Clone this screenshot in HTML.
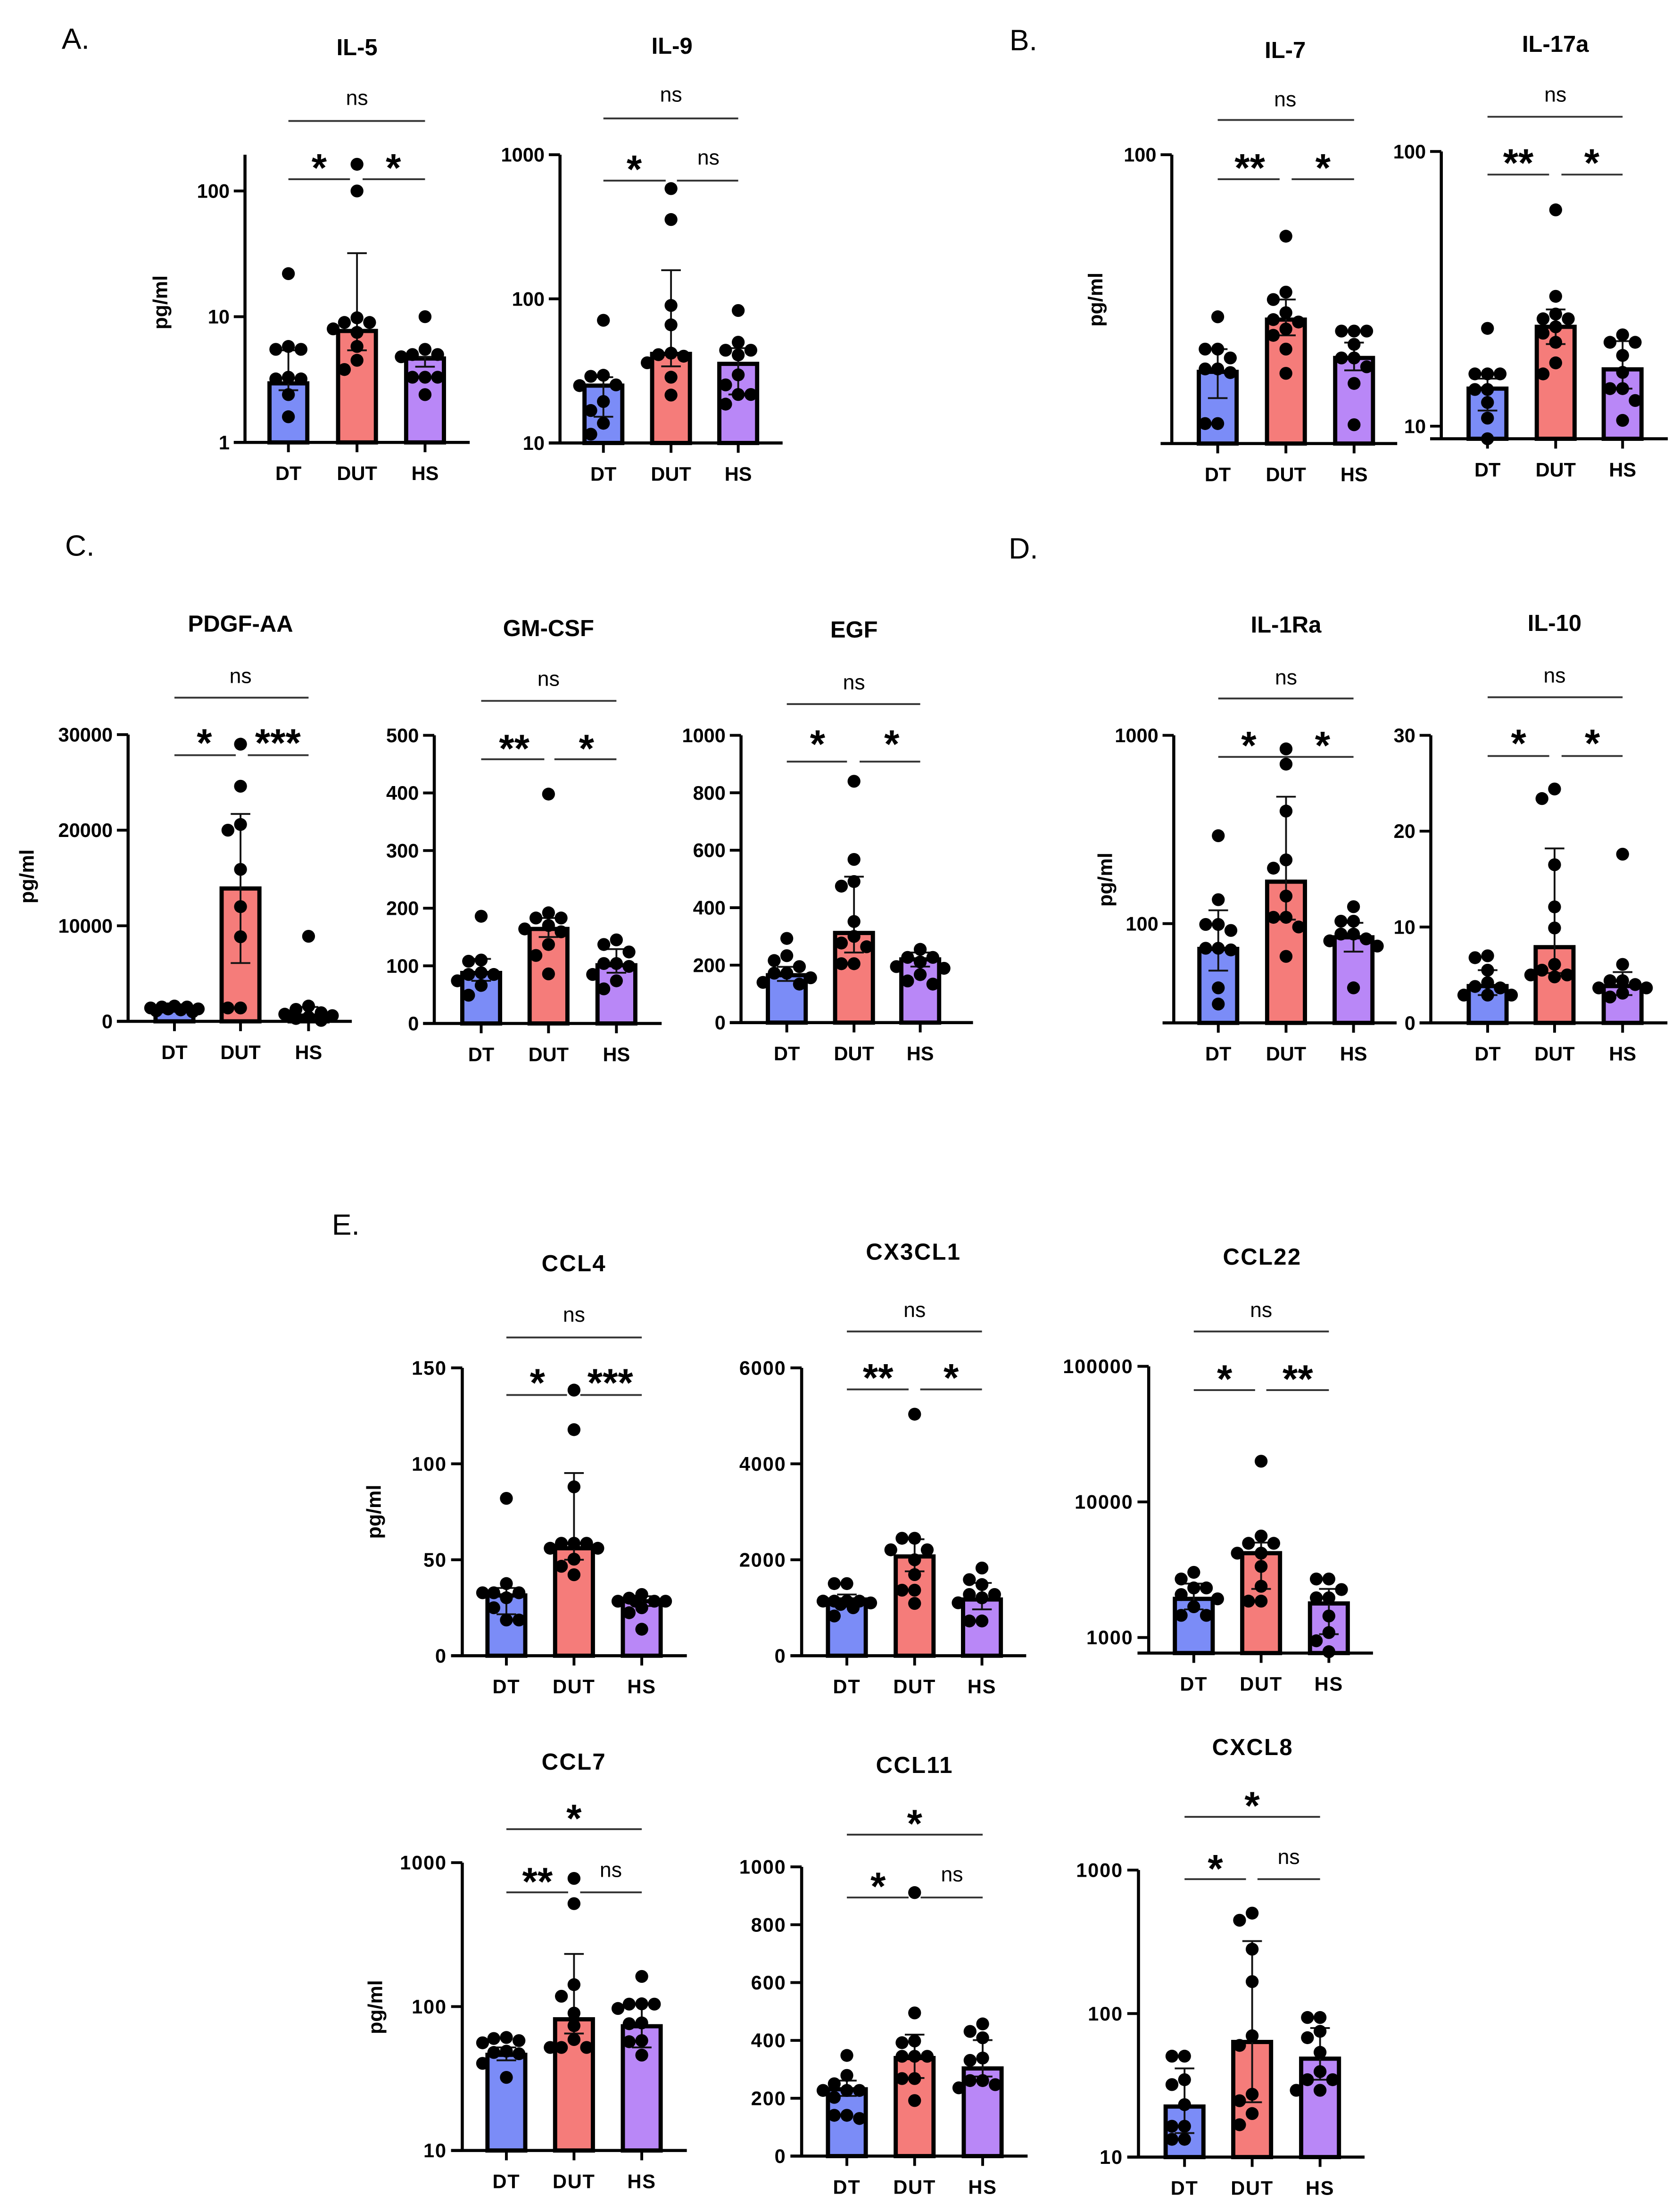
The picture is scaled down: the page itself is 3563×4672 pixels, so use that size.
<!DOCTYPE html>
<html><head><meta charset="utf-8"><title>Cytokine panels</title>
<style>
html,body{margin:0;padding:0;background:#fff;}
svg{display:block;}
text{font-family:"Liberation Sans",Arial,sans-serif;fill:#000;}
</style></head>
<body>
<svg id="fig" xmlns="http://www.w3.org/2000/svg" width="3563" height="4672" viewBox="0 0 1200 1573.5" preserveAspectRatio="none">
<rect x="0" y="0" width="1200" height="1573.5" fill="#fff"/>
<text x="54" y="28" font-size="21" dominant-baseline="central" text-anchor="middle">A.</text>
<text x="731" y="29" font-size="21" dominant-baseline="central" text-anchor="middle">B.</text>
<text x="57" y="390" font-size="21" dominant-baseline="central" text-anchor="middle">C.</text>
<text x="731" y="392" font-size="21" dominant-baseline="central" text-anchor="middle">D.</text>
<text x="247" y="875" font-size="21" dominant-baseline="central" text-anchor="middle">E.</text>
</svg>
<script>
const GROUPS = ['DT','DUT','HS'];
const COLORS = ['#7b8cf7','#f57c7a','#b987f7'];

// IL-5
const IL5_MEAN=[2.95,7.7,4.65], IL5_LO=[2.6,5.4,4.0], IL5_HI=[5.4,32,4.8];
const IL5_DT=[22,5.8,5.5,5.5,3.3,3.2,3.2,2.4,1.6];
const IL5_DUT=[163,100,9.8,9,9,8,7.5,5.8,4.5,3.8];
const IL5_HS=[10,5.5,5,5,4.8,3.3,3.3,3.3,2.4];
// IL-9
const IL9_MEAN=[25,41.5,35.4], IL9_LO=[15.2,34,21.7], IL9_HI=[28.6,158,45.5];
const IL9_DT=[71,29.5,29,25.3,25,19.4,16.8,13.7,11.5];
const IL9_DUT=[582,355,90,66,42,41,40,36,28.6,21.5];
const IL9_HS=[83,50,44,44,40.8,29.7,25.3,21.7,21.7,18.6];
// IL-7
const IL7_MEAN=[16.2,25.1,18.2], IL7_LO=[13,22,16.4], IL7_HI=[19.6,29.7,20.7];
const IL7_DT=[25.7,19.6,19.6,18.2,16.6,16.6,16.1,10.5,10.5];
const IL7_DUT=[50.5,31.6,29.7,26.6,25.1,24.6,23.2,22,19.6,16];
const IL7_HS=[22.8,22.8,22.8,20.4,18.2,18.2,16.9,14.7,10.4];
// IL-17a
const IL17_MEAN=[13.7,23,16.1], IL17_LO=[11.4,19.9,13.7], IL17_HI=[14.9,26.6,20.4];
const IL17_DT=[22.7,15.5,15.5,15.5,13.6,13.6,12.2,10.7,9.0];
const IL17_DUT=[61.3,29.7,25.6,24.6,24.6,23,21.8,20.2,17,15.5];
const IL17_HS=[21.5,20.2,20.2,18.1,15.7,13.7,13.7,12.4,10.5];
// PDGF-AA
const PDGF_MEAN=[1250,13900,600], PDGF_LO=[1000,6100,300], PDGF_HI=[1500,21700,1500];
const PDGF_DT=[1600,1500,1500,1400,1300,1300,1200,1100,1000];
const PDGF_DUT=[29000,24600,20600,20000,15900,12000,8850,1400,1400];
const PDGF_HS=[8900,1600,1250,900,750,600,450,300,100];
// GM-CSF
const GM_MEAN=[87.6,164,101], GM_LO=[74,150,88], GM_HI=[112,183,129];
const GM_DT=[186,110,108,88,85,85,74,66,49];
const GM_DUT=[398,192,183,183,170,164,159,137,118,86];
const GM_HS=[145,137,124,104,104,99,85,74,60];
// EGF
const EGF_MEAN=[165,312,220], EGF_LO=[145,244,195], EGF_HI=[194,508,244];
const EGF_DT=[293,233,216,195,172,172,156,140,134];
const EGF_DUT=[840,568,491,475,352,300,277,264,205,205];
const EGF_HS=[255,227,227,211,195,189,167,145,134];
// IL-1Ra
const IL1RA_MEAN=[73.4,167,84.6], IL1RA_LO=[56.3,105,71], IL1RA_HI=[117.7,472,101];
const IL1RA_DT=[293,134,99,99,92,74,74,72.5,45.6,37.4];
const IL1RA_DUT=[847,703,396,218,197,140,108,108,96,67];
const IL1RA_HS=[123,103,103,88,88,83,81,76,45.6];
// IL-10
const IL10_MEAN=[3.84,7.9,3.84], IL10_LO=[2.9,5.2,2.9], IL10_HI=[5.5,18.2,5.3];
const IL10_DT=[7.0,6.8,5.5,4.2,3.8,3.65,2.9,2.9,2.9];
const IL10_DUT=[24.4,23.4,16.5,12.1,9.9,6.1,5.5,5.0,5.0,4.8];
const IL10_HS=[17.6,6.1,4.4,4.4,4.0,3.65,3.65,3.1,2.7];
// CCL4
const CCL4_MEAN=[31.4,56,28.4], CCL4_LO=[21.6,50,25.9], CCL4_HI=[35.3,95.2,31];
const CCL4_DT=[82,37.6,32.8,32.8,32.8,30.2,25,18.6,18.6];
const CCL4_DUT=[138.4,117.8,88,58.6,58.6,58.6,56,56,50.3,46.6,42.2];
const CCL4_HS=[31.9,30,28.4,28.4,28.4,28.4,25,22.4,13.8];
// CX3CL1
const CX3_MEAN=[1172,2069,1172], CX3_LO=[1069,1759,966], CX3_HI=[1276,2428,1517];
const CX3_DT=[1503,1503,1138,1138,1138,1138,1100,1069,1000,828];
const CX3_DUT=[5034,2448,2448,2207,2207,2000,1690,1366,1366,1090];
const CX3_HS=[1828,1586,1483,1276,1276,1207,1103,724,724];
// CCL22
const CCL22_MEAN=[1928,4188,1783], CCL22_LO=[1612,2283,1058], CCL22_HI=[2498,5014,2283];
const CCL22_DT=[3024,2701,2321,2321,2074,1928,1686,1457,1457];
const CCL22_DUT=[19956,5604,4952,4952,4188,4188,3344,2387,1855,1855];
const CCL22_HS=[2701,2701,2258,1963,1963,1441,1088,946,786];
// CCL7
const CCL7_MEAN=[46.2,81.6,73], CCL7_LO=[42.3,65,52], CCL7_HI=[52,232,104.5];
const CCL7_DT=[61,60,58,56,49,48,47,40.3,32.2];
const CCL7_DUT=[777,519,142,118,90,73.6,59,52,52,52];
const CCL7_HS=[162,104.5,104,104,97,77,76,58,57,46];
// CCL11
const CCL11_MEAN=[231,339,303], CCL11_LO=[208,270,275], CCL11_HI=[261,420,401];
const CCL11_DT=[348,279,250,227,227,227,203,141,141,130];
const CCL11_DUT=[911,495,398,392,345,345,345,268,268,192];
const CCL11_HS=[457,431,409,339,331,261,261,247,236];
// CXCL8
const CXCL8_MEAN=[22.5,63.4,48.5], CXCL8_LO=[14.7,24.1,34.6], CXCL8_HI=[41.5,320,79.3];
const CXCL8_DT=[50.5,50.5,34.6,32,23.2,16.4,16.4,13.3,13.3];
const CXCL8_DUT=[501,447,281,167,70,60,27.4,24.7,20.1,16.8];
const CXCL8_HS=[93.9,93.9,75.2,67.9,53.7,39.4,34.6,34.6,29.2,29.2];

const NS='http://www.w3.org/2000/svg';
const svg=document.getElementById('fig');
function mk(tag,attrs,parent){const e=document.createElementNS(NS,tag);for(const k in attrs)e.setAttribute(k,attrs[k]);(parent||svg).appendChild(e);return e;}
function txt(str,x,y,fs,weight,anchor,parent){const t=mk('text',{x:x,y:y,'font-size':fs,'font-weight':weight||'normal','text-anchor':anchor||'middle','dominant-baseline':'central'},parent);t.textContent=str;return t;}
function fmt(v){return String(v);}

function drawPanel(c){
  const g=mk('g',{});
  
  
  let yOf;
  if(c.log){const l0=Math.log10(c.v0),l1=Math.log10(c.v1);yOf=v=>c.y0+(Math.log10(v)-l0)*(c.y1-c.y0)/(l1-l0);}
  else{yOf=v=>c.y0+(v-c.v0)*(c.y1-c.y0)/(c.v1-c.v0);}
  const t=txt(c.title,c.tx,c.ty,16.5,'bold','middle',g);
  if(c.e)t.setAttribute('letter-spacing','0.8');
  
  
  if(c.ylab){const yl=mk('text',{x:0,y:0,'font-size':14.5,'font-weight':'bold','text-anchor':'middle','dominant-baseline':'central',transform:'translate('+c.ylab[0]+','+c.ylab[1]+') rotate(-90)'},g);yl.textContent='pg/ml';
    
    }
  const bw=27;
  for(let i=0;i<3;i++){
    const x=c.bx[i], yt=yOf(c.mean[i]);
    const r=mk('rect',{x:x-bw/2,y:yt,width:bw,height:Math.max(0,c.base-yt),fill:COLORS[i],stroke:'#000','stroke-width':3},g);
    
    
    const ylo=yOf(c.lo[i]), yhi=yOf(c.hi[i]);
    const eb=mk('path',{d:'M'+x+' '+ylo+'V'+yhi+'M'+(x-7)+' '+yhi+'H'+(x+7)+'M'+(x-7)+' '+ylo+'H'+(x+7),stroke:'#111','stroke-width':1.3,fill:'none'},g);
    
    
    const pts=c.pts[i], placed=[];
    const cands=[0,-9,9,-17,17,-13,13,-4.5,4.5];
    for(let k=0;k<pts.length;k++){
      const py=yOf(pts[k]);
      let best=0,bestD=-1;
      for(const o of cands){let md=1e9;for(const p of placed){const d=Math.hypot(p[0]-o,p[1]-py);if(d<md)md=d;}
        if(md>=8.8){best=o;bestD=1e9;break;} if(md>bestD){bestD=md;best=o;}}
      placed.push([best,py]);
      const ci=mk('circle',{cx:x+best,cy:py,r:4.6,fill:'#000'},g);
      
      
    }
  }
  const ya=mk('line',{x1:c.ax,y1:c.top,x2:c.ax,y2:c.base,stroke:'#000','stroke-width':2.2},g);
  
  
  const xa=mk('line',{x1:c.ax-8,y1:c.base,x2:c.xr,y2:c.base,stroke:'#000','stroke-width':2.2},g);
  
  
  for(const v of c.ticks){const y=yOf(v);
    mk('line',{x1:c.ax-8,y1:y,x2:c.ax,y2:y,stroke:'#000','stroke-width':2},g);
    const tl=txt(fmt(v),c.ax-11,y,14,'bold','end',g);
    if(c.e)tl.setAttribute('letter-spacing','0.6');
    
    }
  for(let i=0;i<3;i++){const x=c.bx[i];
    mk('line',{x1:x,y1:c.base,x2:x,y2:c.base+7,stroke:'#000','stroke-width':2},g);
    const xl=txt(GROUPS[i],x,c.base+22,14,'bold','middle',g);
    if(c.e)xl.setAttribute('letter-spacing','0.6');
    
    }
  for(const s of c.sig){
    for(const seg of s.segs){const l=mk('line',{x1:seg[0],y1:s.ly,x2:seg[1],y2:s.ly,stroke:'#333','stroke-width':1.3},g);
      
      }
    for(const lab of s.labels){
      let el;
      if(lab[0]==='ns'){el=txt('ns',lab[1],lab[2],15,'normal','middle',g);}
      else{el=mk('text',{x:lab[1],y:lab[2]+15.5,'font-size':28,'font-weight':'bold','text-anchor':'middle'},g);el.textContent=lab[0];}
      
      
    }
  }
}

const panels=[
 {id:'il-5',title:'IL-5',tx:255,ty:34,ax:175,xr:335.5,base:316,top:110.5,log:true,v0:1,y0:316,v1:100,y1:136.4,ticks:[1,10,100],bx:[206,255,303.6],ylab:[114.6,216],
  mean:IL5_MEAN,lo:IL5_LO,hi:IL5_HI,pts:[IL5_DT,IL5_DUT,IL5_HS],
  sig:[{ly:86.4,segs:[[206,303.6]],labels:[['ns',255,70]]},{ly:128,segs:[[206,250],[259,303.6]],labels:[['*',228,114],['*',281,114]]}]},
 {id:'il-9',title:'IL-9',tx:480,ty:33,ax:400,xr:559,base:316.4,top:110.5,log:true,v0:10,y0:316.4,v1:1000,y1:110.5,ticks:[10,100,1000],bx:[431,479.3,527.3],
  mean:IL9_MEAN,lo:IL9_LO,hi:IL9_HI,pts:[IL9_DT,IL9_DUT,IL9_HS],
  sig:[{ly:84.6,segs:[[431,527.3]],labels:[['ns',479.3,67.7]]},{ly:129,segs:[[431,475.5],[483.5,527.3]],labels:[['*',453,115],['ns',506,112.7]]}]},
 {id:'il-7',title:'IL-7',tx:918,ty:36,ax:837,xr:998,base:316.8,top:110.5,log:true,v0:100,y0:110.5,v1:10,y1:306.7,ticks:[100],bx:[869.8,918.5,967.2],ylab:[782.7,214],
  mean:IL7_MEAN,lo:IL7_LO,hi:IL7_HI,pts:[IL7_DT,IL7_DUT,IL7_HS],
  sig:[{ly:85.7,segs:[[869.8,967.2]],labels:[['ns',918,71]]},{ly:128,segs:[[869.8,914],[922.6,967.2]],labels:[['**',892.7,114],['*',945,114]]}]},
 {id:'il-17a',title:'IL-17a',tx:1111,ty:31.6,ax:1029.5,xr:1191.3,base:313.4,top:108.2,log:true,v0:100,y0:108.2,v1:10,y1:304.4,ticks:[10,100],bx:[1062.5,1111.2,1159],
  mean:IL17_MEAN,lo:IL17_LO,hi:IL17_HI,pts:[IL17_DT,IL17_DUT,IL17_HS],
  sig:[{ly:83.4,segs:[[1062.5,1159]],labels:[['ns',1111,67.7]]},{ly:124.7,segs:[[1062.5,1106.5],[1115.3,1159]],labels:[['**',1084.5,110.5],['*',1137,110.5]]}]},
 {id:'pdgf-aa',title:'PDGF-AA',tx:171.8,ty:445.8,ax:91.5,xr:251.3,base:729.5,top:524.7,log:false,v0:0,y0:729.5,v1:30000,y1:524.7,ticks:[0,10000,20000,30000],bx:[124.6,171.8,220.4],ylab:[19.3,626],
  mean:PDGF_MEAN,lo:PDGF_LO,hi:PDGF_HI,pts:[PDGF_DT,PDGF_DUT,PDGF_HS],
  sig:[{ly:498.3,segs:[[124.6,220.4]],labels:[['ns',171.8,483]]},{ly:539.4,segs:[[124.6,168.4],[177,220.4]],labels:[['*',146,524.7],['***',198.5,524.7]]}]},
 {id:'gm-csf',title:'GM-CSF',tx:391.8,ty:449,ax:310.2,xr:472.6,base:731,top:525.2,log:false,v0:0,y0:731,v1:500,y1:525.2,ticks:[0,100,200,300,400,500],bx:[343.7,391.8,440.3],
  mean:GM_MEAN,lo:GM_LO,hi:GM_HI,pts:[GM_DT,GM_DUT,GM_HS],
  sig:[{ly:500.6,segs:[[343.7,440.3]],labels:[['ns',391.8,485]]},{ly:542.3,segs:[[343.7,388.8],[396,440.3]],labels:[['**',367.3,528.8],['*',418.9,528.8]]}]},
 {id:'egf',title:'EGF',tx:610,ty:450,ax:529.3,xr:695,base:730.4,top:525.2,log:false,v0:0,y0:730.4,v1:1000,y1:525.2,ticks:[0,200,400,600,800,1000],bx:[562,610,657.3],
  mean:EGF_MEAN,lo:EGF_LO,hi:EGF_HI,pts:[EGF_DT,EGF_DUT,EGF_HS],
  sig:[{ly:502.9,segs:[[562,657.3]],labels:[['ns',610,487.5]]},{ly:544,segs:[[562,605],[614,657.3]],labels:[['*',584,525.5],['*',637,525.5]]}]},
 {id:'il-1ra',title:'IL-1Ra',tx:918.6,ty:446.5,ax:838.4,xr:997.6,base:730.6,top:525.2,log:true,v0:1000,y0:525.2,v1:100,y1:659.7,ticks:[100,1000],bx:[870.2,918.6,966.8],ylab:[789.6,628.3],
  mean:IL1RA_MEAN,lo:IL1RA_LO,hi:IL1RA_HI,pts:[IL1RA_DT,IL1RA_DUT,IL1RA_HS],
  sig:[{ly:498.9,segs:[[870.2,966.8]],labels:[['ns',918.6,484]]},{ly:540.6,segs:[[870.2,966.8]],labels:[['*',892,526.5],['*',944.7,526.5]]}]},
 {id:'il-10',title:'IL-10',tx:1110.4,ty:445.3,ax:1022,xr:1191,base:730.6,top:525.2,log:false,v0:0,y0:730.6,v1:30,y1:525.2,ticks:[0,10,20,30],bx:[1062.6,1110.4,1159],
  mean:IL10_MEAN,lo:IL10_LO,hi:IL10_HI,pts:[IL10_DT,IL10_DUT,IL10_HS],
  sig:[{ly:498,segs:[[1062.6,1159]],labels:[['ns',1110.4,482.6]]},{ly:540,segs:[[1062.6,1106.6],[1115.4,1159]],labels:[['*',1084.7,525],['*',1137.4,525]]}]},
 {id:'ccl4',e:true,title:'CCL4',tx:410,ty:902.6,ax:330.2,xr:490.6,base:1182.6,top:977,log:false,v0:0,y0:1182.6,v1:150,y1:977,ticks:[0,50,100,150],bx:[361.7,410,458.4],ylab:[267.2,1079.8],
  mean:CCL4_MEAN,lo:CCL4_LO,hi:CCL4_HI,pts:[CCL4_DT,CCL4_DUT,CCL4_HS],
  sig:[{ly:955.3,segs:[[361.7,458.4]],labels:[['ns',410,939.2]]},{ly:996.4,segs:[[361.7,405],[414.5,458.4]],labels:[['*',383.9,981.8],['***',435.9,981.8]]}]},
 {id:'cx3cl1',e:true,title:'CX3CL1',tx:652.5,ty:894.3,ax:572.6,xr:733,base:1182.6,top:977,log:false,v0:0,y0:1182.6,v1:6000,y1:977,ticks:[0,2000,4000,6000],bx:[604.9,653.3,701.4],
  mean:CX3_MEAN,lo:CX3_LO,hi:CX3_HI,pts:[CX3_DT,CX3_DUT,CX3_HS],
  sig:[{ly:951,segs:[[604.9,701.4]],labels:[['ns',653.3,935.7]]},{ly:992.4,segs:[[604.9,649],[657.3,701.4]],labels:[['**',627.2,978.2],['*',679.4,978.2]]}]},
 {id:'ccl22',e:true,title:'CCL22',tx:901.6,ty:897.9,ax:820.5,xr:980.7,base:1180.7,top:975.9,log:true,v0:100000,y0:975.9,v1:1000,y1:1169.6,ticks:[1000,10000,100000],bx:[852.7,900.8,949.2],
  mean:CCL22_MEAN,lo:CCL22_LO,hi:CCL22_HI,pts:[CCL22_DT,CCL22_DUT,CCL22_HS],
  sig:[{ly:951,segs:[[852.7,949.2]],labels:[['ns',900.8,935.7]]},{ly:992.9,segs:[[852.7,896.5],[904.5,949.2]],labels:[['*',874.7,979],['**',927,979]]}]},
 {id:'ccl7',e:true,title:'CCL7',tx:410,ty:1258.6,ax:330.2,xr:490.6,base:1536,top:1330.4,log:true,v0:1000,y0:1330.4,v1:10,y1:1536,ticks:[10,100,1000],bx:[361.7,410,458.4],ylab:[268.3,1433.6],
  mean:CCL7_MEAN,lo:CCL7_LO,hi:CCL7_HI,pts:[CCL7_DT,CCL7_DUT,CCL7_HS],
  sig:[{ly:1306.5,segs:[[361.7,458.4]],labels:[['*',410,1293]]},{ly:1351.6,segs:[[361.7,405.8],[414.4,458.4]],labels:[['**',383.9,1338],['ns',436.3,1335.7]]}]},
 {id:'ccl11',e:true,title:'CCL11',tx:653.3,ty:1260.9,ax:572.6,xr:734,base:1540,top:1333.4,log:false,v0:0,y0:1540,v1:1000,y1:1333.4,ticks:[0,200,400,600,800,1000],bx:[604.9,653.3,701.9],
  mean:CCL11_MEAN,lo:CCL11_LO,hi:CCL11_HI,pts:[CCL11_DT,CCL11_DUT,CCL11_HS],
  sig:[{ly:1310.4,segs:[[604.9,701.9]],labels:[['*',653.3,1296.6]]},{ly:1355.3,segs:[[604.9,649],[657.6,701.9]],labels:[['*',627.2,1341.5],['ns',680,1339]]}]},
 {id:'cxcl8',e:true,title:'CXCL8',tx:894.8,ty:1248.2,ax:813.2,xr:974.7,base:1540.7,top:1335.7,log:true,v0:1000,y0:1335.7,v1:10,y1:1540.7,ticks:[10,100,1000],bx:[846.1,894.4,942.9],
  mean:CXCL8_MEAN,lo:CXCL8_LO,hi:CXCL8_HI,pts:[CXCL8_DT,CXCL8_DUT,CXCL8_HS],
  sig:[{ly:1297.7,segs:[[846.1,942.9]],labels:[['*',894.4,1283.9]]},{ly:1342.2,segs:[[846.1,890],[898.2,942.9]],labels:[['*',868.1,1328.8],['ns',920.5,1326.5]]}]}
];
panels.forEach(drawPanel);
</script>
</body></html>
